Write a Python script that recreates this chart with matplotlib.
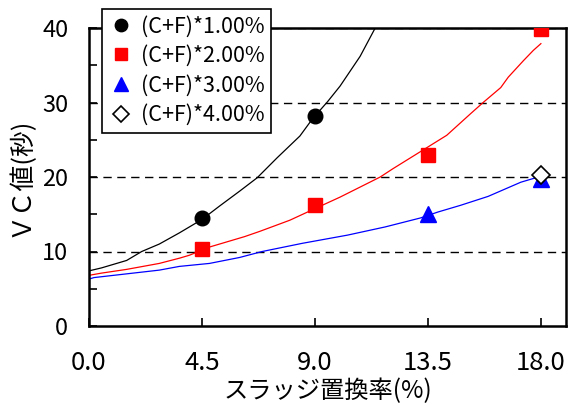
import matplotlib
matplotlib.use("Agg")
import matplotlib.pyplot as plt
from matplotlib.ticker import MultipleLocator

plt.rcParams['font.family'] = ['Noto Sans CJK JP', 'DejaVu Sans']

# Simulated VC curves (slag replacement ratio % vs. VC seconds)
curve1_x = [0, 0.5, 1.0, 1.5, 2.1, 2.8, 3.6, 4.5, 5.2, 6.0, 6.7, 7.5, 8.4, 8.9, 9.5, 10.0, 10.8, 11.4]
curve1_y = [7.4, 7.8, 8.3, 8.8, 10.0, 11.0, 12.5, 14.3, 16.1, 18.1, 19.9, 22.6, 25.5, 27.8, 30.1, 32.2, 36.2, 40.0]

curve2_x = [0, 0.5, 1.5, 2.8, 3.6, 4.0, 4.8, 6.2, 6.8, 8.0, 8.9, 10.0, 11.6, 12.1, 13.2, 14.25, 15.2, 15.7, 16.4, 16.7, 17.3, 17.7, 18.0]
curve2_y = [6.8, 7.1, 7.6, 8.4, 9.1, 9.5, 10.6, 12.0, 12.7, 14.2, 15.6, 17.3, 20.0, 21.1, 23.4, 25.6, 28.5, 30.0, 32.0, 33.4, 35.6, 37.0, 37.9]

curve3_x = [0, 0.2, 1.5, 2.8, 3.6, 4.8, 6.0, 6.9, 8.5, 10.3, 11.8, 13.2, 13.9, 14.8, 15.9, 17.2, 18.0]
curve3_y = [6.3, 6.5, 7.0, 7.5, 8.0, 8.4, 9.2, 10.0, 11.1, 12.2, 13.3, 14.5, 15.3, 16.2, 17.4, 19.3, 20.1]

# Measured values
meas1_x = [4.5, 9.0]
meas1_y = [14.5, 28.2]
meas2_x = [4.5, 9.0, 13.5, 18.0]
meas2_y = [10.4, 16.2, 22.9, 39.8]
meas3_x = [13.5, 18.0]
meas3_y = [15.0, 19.7]
meas4_x = [18.0]
meas4_y = [20.3]

labels = ["(C+F)*1.00%", "(C+F)*2.00%", "(C+F)*3.00%", "(C+F)*4.00%"]
x_ticks = [0.0, 4.5, 9.0, 13.5, 18.0]
x_ticklabels = ["0.0", "4.5", "9.0", "13.5", "18.0"]
y_ticks = [0, 10, 20, 30, 40]

fig = plt.figure(figsize=(5.70, 4.09), dpi=100)
ax = fig.add_axes([89 / 570, 1 - 326 / 409, (566 - 89) / 570, (326 - 28) / 409])

for y in [10, 20, 30, 40]:
    ax.axhline(y, color='black', lw=1.0, ls=(0, (6, 4)), zorder=1)

ax.plot(curve1_x, curve1_y, color='black', lw=0.9, zorder=2)
ax.plot(curve2_x, curve2_y, color='red', lw=0.9, zorder=2)
ax.plot(curve3_x, curve3_y, color='blue', lw=0.9, zorder=2)

h1, = ax.plot(meas1_x, meas1_y, 'o', color='black', ms=10.5, ls='none', zorder=3, label=labels[0])
h2, = ax.plot(meas2_x, meas2_y, 's', color='red', ms=10.5, ls='none', zorder=3, label=labels[1])
h3, = ax.plot(meas3_x, meas3_y, '^', color='blue', ms=12, ls='none', zorder=3, label=labels[2])
h4, = ax.plot(meas4_x, meas4_y, 'D', mfc='white', mec='black', mew=1.2, ms=9, ls='none', zorder=4, label=labels[3])

ax.set_xlim(0, 19.0)
ax.set_ylim(0, 40)
ax.set_xticks(x_ticks)
ax.set_xticklabels(x_ticklabels)
ax.set_yticks(y_ticks)
ax.yaxis.set_minor_locator(MultipleLocator(5))

ax.tick_params(axis='both', which='both', direction='in', width=1.2)
ax.tick_params(axis='y', which='major', labelsize=17)
ax.tick_params(axis='x', which='major', labelsize=18.5)
ax.tick_params(axis='both', which='major', length=6)
ax.tick_params(axis='y', which='minor', length=6)
ax.tick_params(axis='y', which='both', pad=15)
ax.tick_params(axis='x', which='both', pad=17)

for s in ax.spines.values():
    s.set_linewidth(1.8)
    s.set_color('black')

ax.set_xlabel("スラッジ置換率(%)", fontsize=17.5, labelpad=2)
ax.set_ylabel("ＶＣ値(秒)", fontsize=18.5, labelpad=6)

leg = fig.legend(handles=[h1, h2, h3, h4], loc='upper left',
                 bbox_to_anchor=(102 / 570, 1 - 9 / 409), fontsize=15.5,
                 frameon=True, fancybox=False, edgecolor='black', framealpha=1,
                 handletextpad=0.3, labelspacing=0.35, borderpad=0.3,
                 handlelength=1.2, borderaxespad=0, markerscale=0.85)
leg.get_frame().set_linewidth(1.2)
leg.set_zorder(10)

fig.savefig("out.png", dpi=100)
